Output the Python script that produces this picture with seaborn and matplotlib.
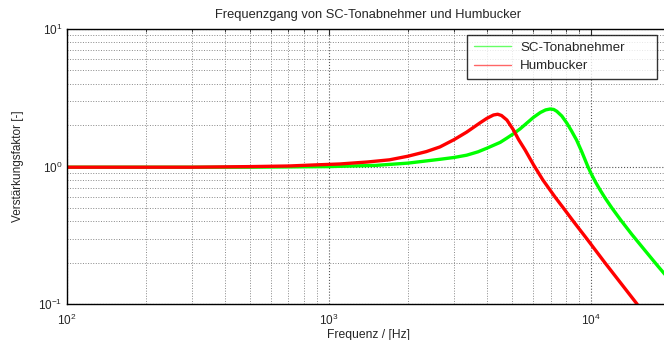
import pandas as pd
import matplotlib
matplotlib.use("Agg")
import matplotlib.pyplot as plt
from matplotlib.lines import Line2D
import seaborn as sns

# values (frequency in Hz, gain factor)
freq_sc = [100, 500, 1000, 1500, 2000, 2650, 3000, 3350, 3700, 4000, 4500, 4770,
           5050, 5360, 5700, 6030, 6400, 6700, 6975, 7200, 7400, 7730, 8080,
           8400, 8800, 9200, 9700, 10000, 10400, 10800, 11300, 12000, 13000,
           14300, 16000, 18000, 19500]
gain_sc = [0.99, 0.99, 1.0, 1.02, 1.06, 1.13, 1.165, 1.21, 1.28, 1.36, 1.50, 1.61,
           1.73, 1.88, 2.08, 2.28, 2.47, 2.58, 2.62, 2.60, 2.52, 2.33, 2.07,
           1.83, 1.56, 1.29, 1.01, 0.89, 0.771, 0.681, 0.593, 0.501, 0.407,
           0.322, 0.248, 0.189, 0.158]

freq_hb = [100, 300, 500, 700, 900, 1100, 1400, 1700, 2000, 2350, 2650, 3000,
           3350, 3770, 4000, 4240, 4400, 4550, 4770, 5050, 5290, 5600, 6030,
           6300, 6545, 6880, 7290, 7840, 8560, 9620, 11300, 15000]
gain_hb = [0.99, 0.99, 1.0, 1.01, 1.03, 1.045, 1.08, 1.12, 1.19, 1.285, 1.39, 1.57,
           1.78, 2.08, 2.24, 2.37, 2.40, 2.35, 2.18, 1.85, 1.57, 1.32, 1.03,
           0.90, 0.80, 0.70, 0.60, 0.50, 0.40, 0.30, 0.20, 0.10]

series_names = ["SC-Tonabnehmer", "Humbucker"]
series_colors = {"SC-Tonabnehmer": "#00ff00", "Humbucker": "#ff0000"}

df = pd.concat([
    pd.DataFrame({"f": freq_sc, "v": gain_sc, "kurve": series_names[0]}),
    pd.DataFrame({"f": freq_hb, "v": gain_hb, "kurve": series_names[1]}),
])

sns.set_style("white")
plt.rcParams["font.family"] = ["Liberation Sans", "DejaVu Sans"]

fig = plt.figure(figsize=(6.64, 3.4), dpi=100)
ax = fig.add_axes([0.101, 0.105, 0.908, 0.81])

sns.lineplot(data=df, x="f", y="v", hue="kurve", palette=series_colors,
             linewidth=2.4, sort=False, legend=False, ax=ax, estimator=None)

ax.set_xscale("log")
ax.set_yscale("log")
ax.set_xlim(100, 20000)
ax.set_ylim(0.1, 10)

ax.grid(which="major", linestyle=":", color="#555555", linewidth=0.8)
ax.grid(which="minor", linestyle=":", color="#888888", linewidth=0.7)
ax.set_axisbelow(True)

ax.tick_params(which="both", direction="in", top=True, right=True, labelsize=8.5)
ax.tick_params(axis="x", which="major", pad=6)
ax.tick_params(which="major", length=4)
ax.tick_params(which="minor", length=2)
for s in ax.spines.values():
    s.set_color("black")
    s.set_linewidth(1.0)

ax.set_title("Frequenzgang von SC-Tonabnehmer und Humbucker", fontsize=9.3, pad=8)
ax.set_xlabel("Frequenz / [Hz]", fontsize=8.7, labelpad=1)
ax.set_ylabel("Verstärkungsfaktor [-]", fontsize=8.5, labelpad=10)

# legend box stretched like the MATLAB one (extra room on the right)
handles = [Line2D([], [], color=series_colors[n], lw=1, alpha=0.6) for n in series_names]
leg = fig.legend(handles, series_names, loc="upper left", mode="expand",
                 fontsize=9.6, frameon=True, fancybox=False, borderpad=0.5,
                 handlelength=2.8, handletextpad=0.7, labelspacing=0.45,
                 borderaxespad=0,
                 bbox_to_anchor=(467 / 664, 1 - 78 / 340, 190 / 664, 43 / 340))
leg.get_frame().set_edgecolor("black")
leg.get_frame().set_linewidth(1.0)

plt.savefig("out.png", dpi=100)
plt.close()
